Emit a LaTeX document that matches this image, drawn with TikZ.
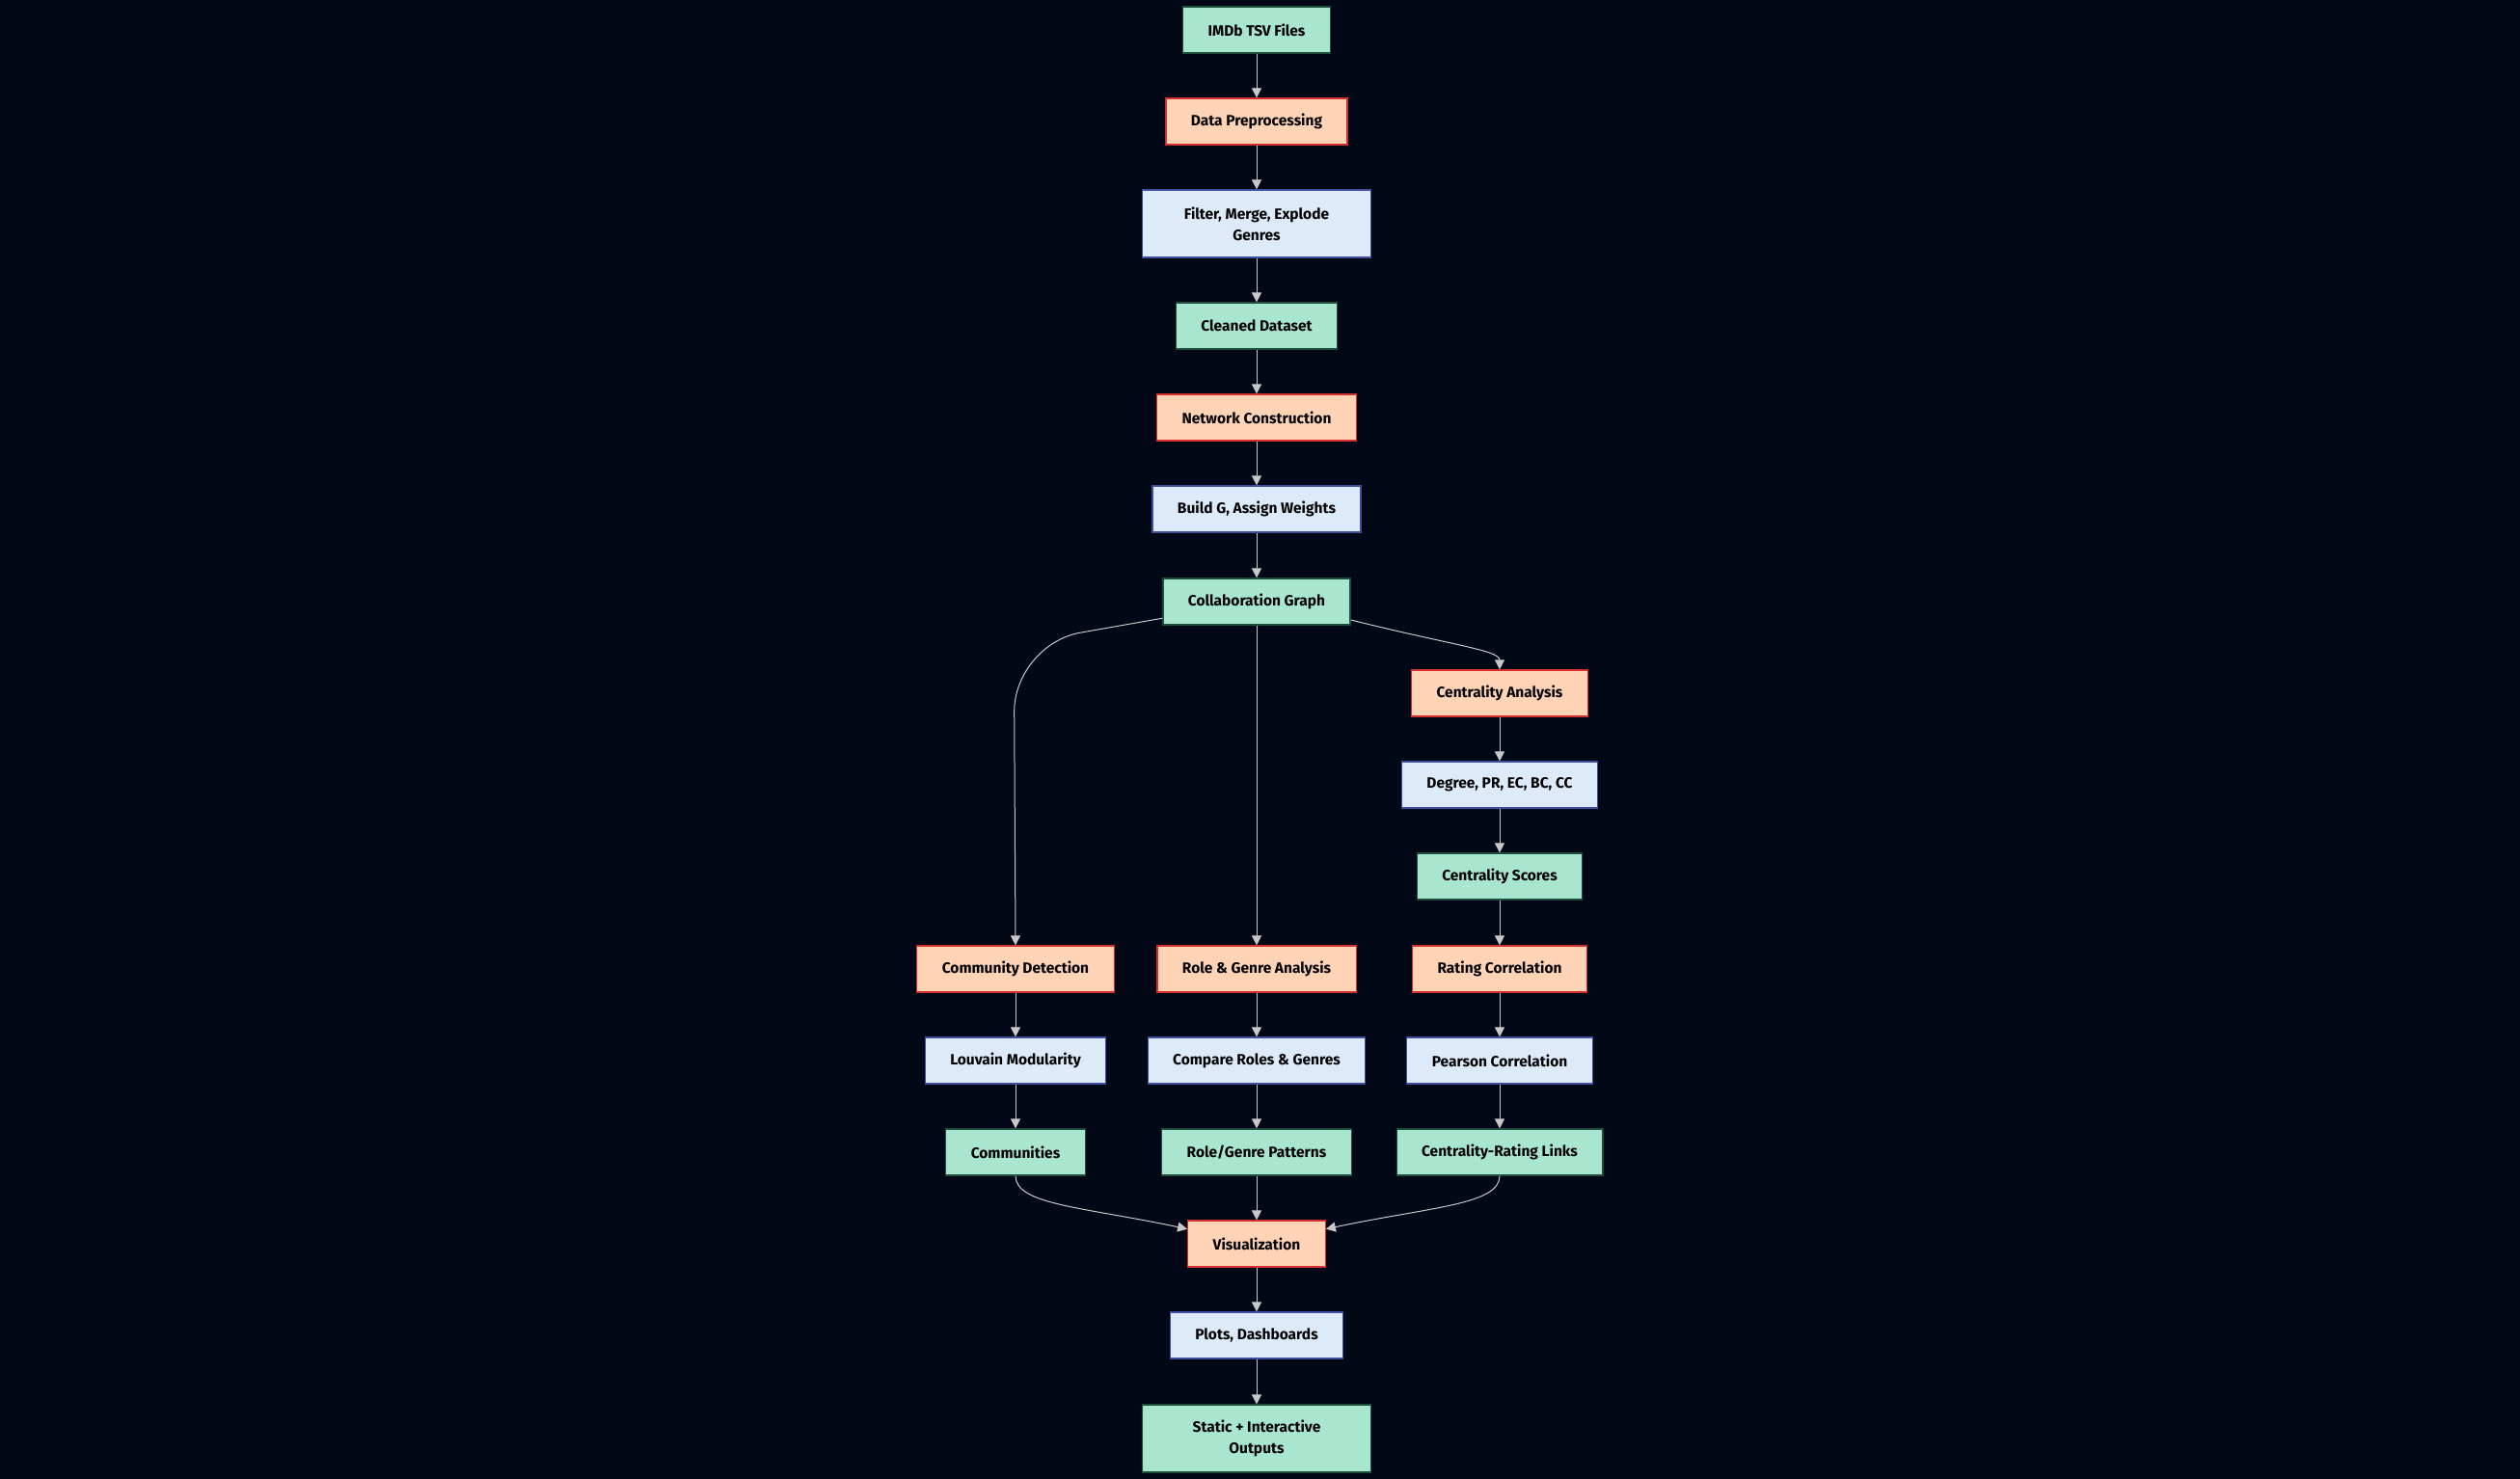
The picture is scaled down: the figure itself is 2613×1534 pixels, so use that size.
\documentclass[tikz,border=0pt]{standalone}
\usepackage{fontspec}
\setmainfont{Fira Sans}
\usetikzlibrary{arrows.meta}

\definecolor{bgnavy}{HTML}{030817}
\definecolor{datafill}{HTML}{A8E6CF}
\definecolor{datadraw}{HTML}{1E4D3B}
\definecolor{procfill}{HTML}{FFD3B6}
\definecolor{procdraw}{HTML}{D32F2F}
\definecolor{taskfill}{HTML}{DCEAF9}
\definecolor{taskdraw}{HTML}{3F4F9F}
\definecolor{flowgray}{HTML}{C8C8C8}

\tikzset{
  box/.style={rectangle, minimum height=48pt, inner xsep=26pt, inner ysep=0pt, line width=1.2pt, font=\fontsize{15.5}{22}\selectfont\bfseries, text=black, align=center},
  data/.style={box, fill=datafill, draw=datadraw},
  proc/.style={box, fill=procfill, draw=procdraw},
  task/.style={box, fill=taskfill, draw=taskdraw},
  wide/.style={minimum width=237pt, minimum height=70pt},
  flow/.style={line width=1pt, color=flowgray, ->, >={Triangle[length=10pt, width=10pt]}},
}

\begin{document}
\begin{tikzpicture}
\fill [bgnavy] (0pt, 0pt) rectangle (2613pt, -1534pt);
\useasboundingbox (0pt, 0pt) rectangle (2613pt, -1534pt);
% main column
\node (imdb) [data] at (1303pt, -31pt) {IMDb TSV Files};
\node (prep) [proc] at (1303pt, -126pt) {Data Preprocessing};
\node (filt) [task, wide] at (1303pt, -232pt) {Filter, Merge, Explode\\Genres};
\node (clean) [data] at (1303pt, -338pt) {Cleaned Dataset};
\node (netc) [proc] at (1303pt, -433pt) {Network Construction};
\node (build) [task] at (1303pt, -528pt) {Build G, Assign Weights};
\node (collab) [data] at (1303pt, -624pt) {Collaboration Graph};
% centrality branch
\node (centa) [proc] at (1555pt, -719pt) {Centrality Analysis};
\node (degree) [task] at (1555pt, -814pt) {Degree, PR, EC, BC, CC};
\node (cscores) [data] at (1555pt, -909pt) {Centrality Scores};
% three columns
\node (commd) [proc] at (1053pt, -1005pt) {Community Detection};
\node (roleg) [proc] at (1303pt, -1005pt) {Role \& Genre Analysis};
\node (ratec) [proc] at (1555pt, -1005pt) {Rating Correlation};
\node (louv) [task] at (1053pt, -1100pt) {Louvain Modularity};
\node (comp) [task] at (1303pt, -1100pt) {Compare Roles \& Genres};
\node (pears) [task] at (1555pt, -1100pt) {Pearson Correlation};
\node (comms) [data] at (1053pt, -1195pt) {Communities};
\node (patt) [data] at (1303pt, -1195pt) {Role/Genre Patterns};
\node (links) [data] at (1555pt, -1195pt) {Centrality-Rating Links};
% outputs
\node (vis) [proc] at (1303pt, -1290pt) {Visualization};
\node (plots) [task] at (1303pt, -1385pt) {Plots, Dashboards};
\node (outs) [data, wide] at (1303pt, -1492pt) {Static + Interactive\\Outputs};
% edges
\draw [flow] (imdb) to (prep);
\draw [flow] (prep) to (filt);
\draw [flow] (filt) to (clean);
\draw [flow] (clean) to (netc);
\draw [flow] (netc) to (build);
\draw [flow] (build) to (collab);
\draw [flow, rounded corners=70pt] (collab.190) -- ++(-154pt, -27pt) -- (commd.north);
\draw [flow] (collab) to (roleg);
\draw [flow] (collab.349) .. controls +(-14:110pt) and +(0pt, 20pt) .. (centa.north);
\draw [flow] (centa) to (degree);
\draw [flow] (degree) to (cscores);
\draw [flow] (cscores) to (ratec);
\draw [flow] (commd) to (louv);
\draw [flow] (louv) to (comms);
\draw [flow] (roleg) to (comp);
\draw [flow] (comp) to (patt);
\draw [flow] (ratec) to (pears);
\draw [flow] (pears) to (links);
\draw [flow] (comms.south) .. controls +(0pt, -30pt) and +(168:110pt) .. (vis.168);
\draw [flow] (patt) to (vis);
\draw [flow] (links.south) .. controls +(0pt, -30pt) and +(12:110pt) .. (vis.12);
\draw [flow] (vis) to (plots);
\draw [flow] (plots) to (outs);
\end{tikzpicture}
\end{document}
